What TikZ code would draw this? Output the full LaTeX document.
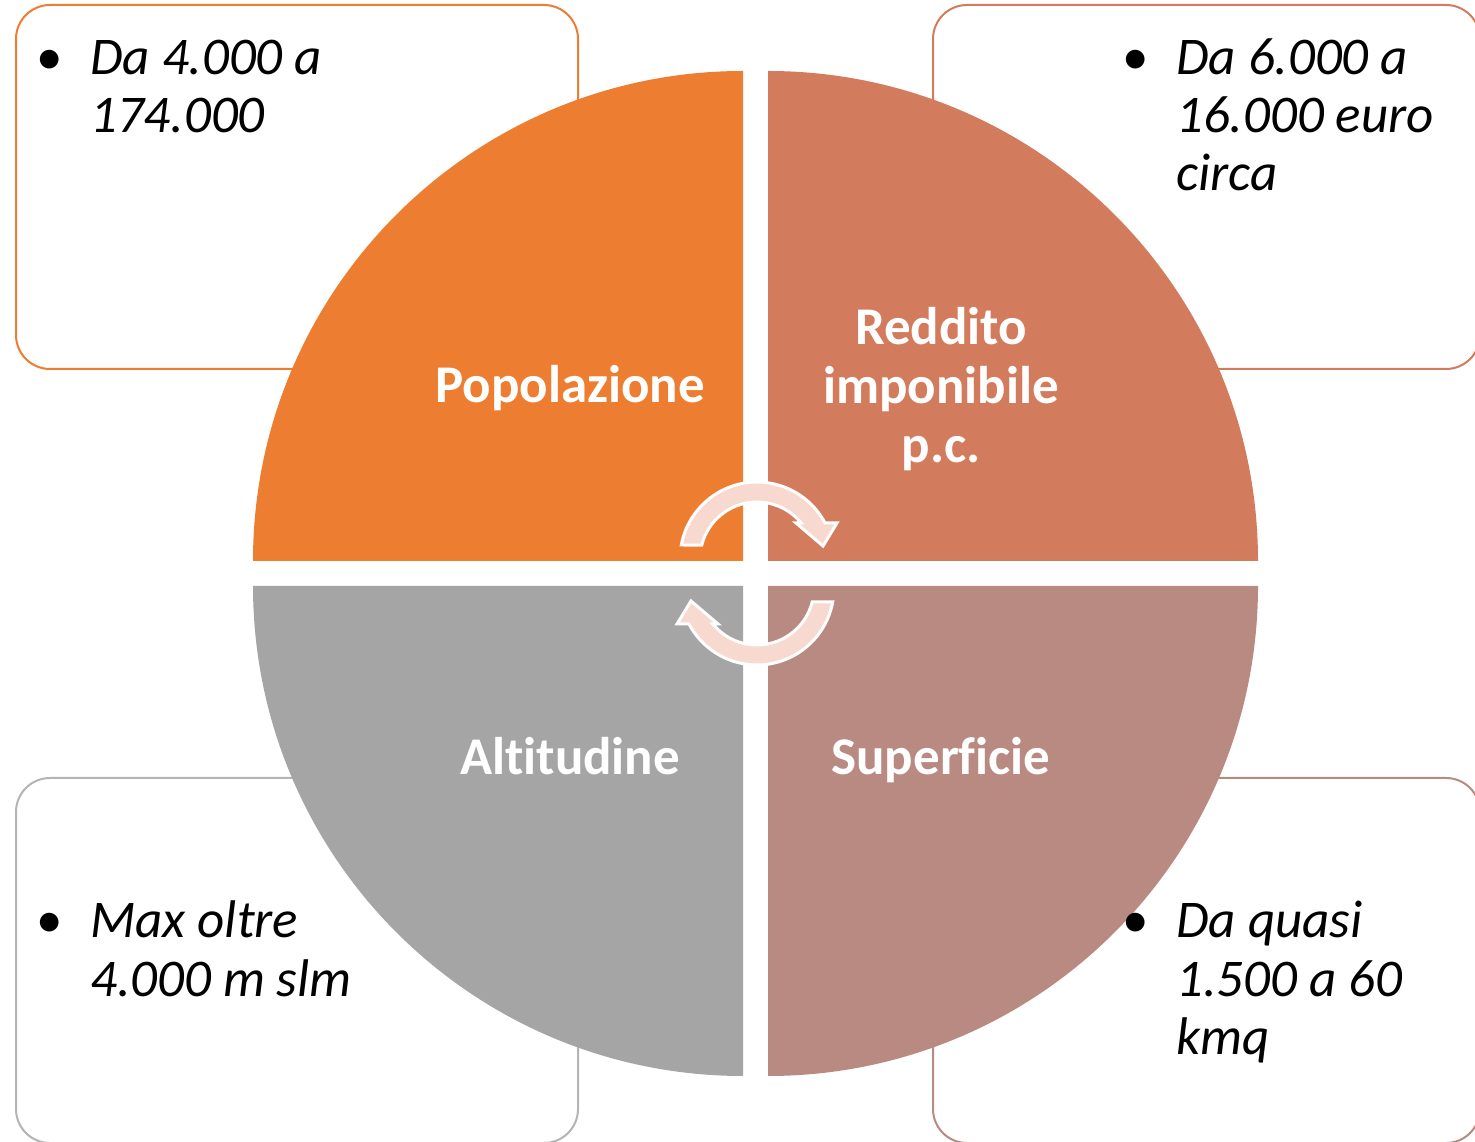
\documentclass[tikz,border=0pt]{standalone}
\usepackage{fontspec}
\setmainfont{Carlito}[Ligatures=NoCommon]
\definecolor{cpop}{HTML}{ED7D31}
\definecolor{cred}{HTML}{D27B5D}
\definecolor{csup}{HTML}{B98A82}
\definecolor{calt}{HTML}{A5A5A5}
\definecolor{caltline}{HTML}{B4B4B4}
\definecolor{carrow}{HTML}{F7D9CF}
\begin{document}
\begin{tikzpicture}[x=1pt,y=1pt,
  box/.style={draw, line width=2pt, fill=white, rounded corners=34pt, minimum height=364pt, inner sep=0pt},
  lab/.style={text=white, font=\fontsize{53}{59}\selectfont\bfseries, inner sep=0pt, anchor=base},
  item/.style={anchor=base west, font=\fontsize{53}{58}\selectfont\itshape, inner sep=0pt},
  cyc/.style={fill=carrow, draw=white, line width=3pt, line join=miter}]
\clip (0,0) rectangle (1475,1141);
\fill[white] (0,0) rectangle (1475,1141);
% boxes
\node[box, draw=cpop, minimum width=562pt] (btl) at (297,954) {};
\node[box, draw=cred, minimum width=547pt] (btr) at (1206.5,954) {};
\node[box, draw=caltline, minimum width=562pt, minimum height=365pt] (bbl) at (297,180.5) {};
\node[box, draw=csup, minimum width=547pt, minimum height=365pt] (bbr) at (1206.5,180.5) {};
% quadrants
\fill[cpop] (743,580) -- (253,580) arc[start angle=180, end angle=90, radius=490] -- cycle;
\fill[cred] (768,580) -- (768,1070) arc[start angle=90, end angle=0, radius=490] -- cycle;
\fill[calt] (743,555) -- (743,65) arc[start angle=270, end angle=180, radius=490] -- cycle;
\fill[csup] (768,555) -- (1258,555) arc[start angle=0, end angle=-90, radius=490] -- cycle;
% cycle arrows
\path[cyc] (681.3,596) arc[start angle=169.5, end angle=27.9, radius=77] -- (837,618) -- (823,595) -- (796,618) -- (801.2,618) arc[start angle=39.2, end angle=165.8, radius=57] -- cycle;
\begin{scope}[rotate around={180:(757,567.5)}]
\path[cyc] (681.3,596) arc[start angle=169.5, end angle=27.9, radius=77] -- (837,618) -- (823,595) -- (796,618) -- (801.2,618) arc[start angle=39.2, end angle=165.8, radius=57] -- cycle;
\end{scope}
% labels
\node[lab] (pop) at (570,738) {Popolazione};
\node[lab] (red) at (941,796) {\begin{tabular}[t]{@{}c@{}}Reddito\\imponibile\\p.c.\end{tabular}};
\node[lab] (alt) at (570,366) {Altitudine};
\node[lab] (sup) at (941,366) {Superficie};
% box texts
\node[item] (ttl) at (90,1066) {\makebox[0pt][r]{\upshape\textbullet\hspace{27pt}}\begin{tabular}[t]{@{}l@{}}Da 4.000 a\\174.000\end{tabular}};
\node[item] (ttr) at (1176,1066) {\makebox[0pt][r]{\upshape\textbullet\hspace{27pt}}\begin{tabular}[t]{@{}l@{}}Da 6.000 a\\16.000 euro\\circa\end{tabular}};
\node[item] (tbl) at (90,203) {\makebox[0pt][r]{\upshape\textbullet\hspace{27pt}}\begin{tabular}[t]{@{}l@{}}Max oltre\\4.000 m slm\end{tabular}};
\node[item] (tbr) at (1176,203) {\makebox[0pt][r]{\upshape\textbullet\hspace{27pt}}\begin{tabular}[t]{@{}l@{}}Da quasi\\1.500 a 60\\kmq\end{tabular}};
\end{tikzpicture}
\end{document}
